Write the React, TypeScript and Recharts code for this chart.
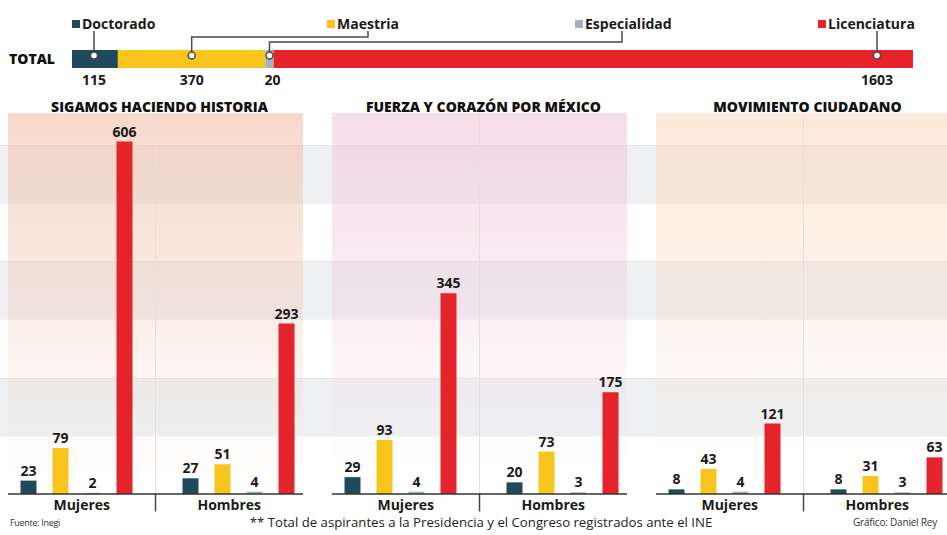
import React from 'react';
import {
  BarChart,
  Bar,
  XAxis,
  YAxis,
  Legend,
  LabelList,
  ReferenceArea,
  ReferenceLine,
} from 'recharts';

// ---- data ----
const LEVEL_KEYS = ['doc', 'mae', 'esp', 'lic'];
const LEVEL_NAMES = ['Doctorado', 'Maestria', 'Especialidad', 'Licenciatura'];
const TOTAL_VALUES = [115, 370, 20, 1603];
const GENDERS = ['Mujeres', 'Hombres'];
const PARTIES = ['SIGAMOS HACIENDO HISTORIA', 'FUERZA Y CORAZÓN POR MÉXICO', 'MOVIMIENTO CIUDADANO'];
const MUJERES = [
  [23, 79, 2, 606],
  [29, 93, 4, 345],
  [8, 43, 4, 121],
];
const HOMBRES = [
  [27, 51, 4, 293],
  [20, 73, 3, 175],
  [8, 31, 3, 63],
];
const BAND_TICKS = [100, 200, 300, 400, 500, 600];
const STRIPES = [
  [100, 200],
  [300, 400],
  [500, 600],
];
const Y_MAX = 655;

// ---- layout / styles ----
const FONT = "'Open Sans', sans-serif";
const LEVEL_COLORS = ['#1f4a5b', '#f7c51c', '#a3b1bc', '#e4232a'];
const PANEL_LEFT = [8, 332, 656];
const PANEL_W = 295;
const PANEL_TINTS = ['#f2bea3', '#f2c6d9', '#fcd9be'];
const LEGEND_LEFT = [72, 327, 575, 818];
const LEGEND_ANCHOR = [94, 368, 622, 877];
const LEGEND_ELBOW = [0, 37, 42, 0];
// plot box shared by the three party charts (page pixels)
const PLOT_TOP = 113;
const PLOT_H = 381;
const yPix = (v: number) => PLOT_TOP + (1 - v / Y_MAX) * PLOT_H;

const totalRow = [
  { label: 'TOTAL', ...Object.fromEntries(LEVEL_KEYS.map((k, i) => [k, TOTAL_VALUES[i]])) },
];

const panelRows = (p: number) =>
  GENDERS.map((g, gi) => {
    const vals = gi === 0 ? MUJERES[p] : HOMBRES[p];
    return { gender: g, ...Object.fromEntries(LEVEL_KEYS.map((k, i) => [k, vals[i]])) };
  });

function TotalMarker(props: any) {
  const { idx, value } = props;
  const vb = props.viewBox ?? props;
  const x = Number(vb.x);
  const y = Number(vb.y);
  const w = Number(vb.width);
  const h = Number(vb.height);
  const anchor = LEGEND_ANCHOR[idx];
  const inside = anchor >= x && anchor <= x + w;
  const cx = inside ? anchor : x + w / 2;
  const cy = y + h * 0.3;
  const top = 31;
  const d = inside
    ? `M${anchor},${top} V${cy}`
    : `M${anchor},${top} V${LEGEND_ELBOW[idx]} H${cx} V${cy}`;
  return (
    <g>
      <path d={d} fill="none" stroke="#4a4a4a" strokeWidth={1.5} />
      <circle cx={cx} cy={cy} r={3.5} fill="#fff" stroke="#4a4a4a" strokeWidth={1.5} />
      <text x={cx + (idx === 2 ? 3 : 0)} y={y + h + 17} textAnchor="middle" fontFamily={FONT} fontSize={14} fontWeight={700} fill="#1a1a1a">
        {value}
      </text>
    </g>
  );
}

function renderLegend(props: any) {
  const payload = props.payload || [];
  return (
    <div style={{ position: 'relative', width: 947, height: 34 }}>
      {payload.map((item: any) => {
        const i = LEVEL_NAMES.indexOf(item.value);
        return (
          <div
            key={item.value}
            style={{
              position: 'absolute',
              left: LEGEND_LEFT[i],
              top: 16,
              display: 'flex',
              alignItems: 'center',
              gap: 2,
              fontFamily: FONT,
              fontSize: 14,
              fontWeight: 700,
              lineHeight: '16px',
              color: '#1a1a1a',
            }}
          >
            <span style={{ width: 8, height: 8, background: LEVEL_COLORS[i], display: 'inline-block' }} />
            <span>{item.value}</span>
          </div>
        );
      })}
    </div>
  );
}

function PartyPanel({ p }: { p: number }) {
  const rows = panelRows(p);
  return (
    <div style={{ position: 'absolute', left: PANEL_LEFT[p], top: 100 }}>
      <BarChart width={PANEL_W} height={425} data={rows} margin={{ top: 13, right: 0, bottom: 0, left: 0 }} barSize={16} barGap={16}>
        <defs>
          <linearGradient id={`tint${p}`} x1="0" y1="0" x2="0" y2="1">
            <stop offset="0%" stopColor={PANEL_TINTS[p]} stopOpacity={0.58} />
            <stop offset="50%" stopColor={PANEL_TINTS[p]} stopOpacity={0.3} />
            <stop offset="80%" stopColor={PANEL_TINTS[p]} stopOpacity={0.05} />
            <stop offset="100%" stopColor={PANEL_TINTS[p]} stopOpacity={0} />
          </linearGradient>
        </defs>
        <XAxis
          xAxisId="a"
          dataKey="gender"
          height={31}
          interval={0}
          axisLine={{ stroke: '#333', strokeWidth: 1.5 }}
          tickLine={false}
          tickMargin={0}
          tick={{ fontSize: 14, fontWeight: 700, fill: '#1a1a1a', fontFamily: FONT }}
        />
        <XAxis xAxisId="z" dataKey="gender" hide height={0} padding={{ left: -12.5, right: -16.5 }} />
        <YAxis hide domain={[0, Y_MAX]} />
        <ReferenceArea xAxisId="a" y1={0} y2={Y_MAX} fill={`url(#tint${p})`} fillOpacity={1} />
        <ReferenceLine xAxisId="a" x="Hombres" position="start" stroke="#e4dfdd" strokeWidth={1} />
        <ReferenceLine
          xAxisId="a"
          segment={[
            { x: 'Hombres', y: 0 },
            { x: 'Hombres', y: -30 },
          ]}
          position="start"
          stroke="#444"
          strokeWidth={1.5}
          ifOverflow="visible"
        />
        {LEVEL_KEYS.map((k, i) => (
          <Bar key={k} xAxisId="z" dataKey={k} name={LEVEL_NAMES[i]} fill={LEVEL_COLORS[i]} isAnimationActive={false}>
            <LabelList dataKey={k} position="top" offset={5} fontSize={14} fontWeight={700} fill="#1a1a1a" fontFamily={FONT} />
          </Bar>
        ))}
      </BarChart>
      <div
        style={{
          position: 'absolute',
          left: 0,
          top: -1,
          width: PANEL_W,
          textAlign: 'center',
          fontFamily: FONT,
          fontSize: 14,
          fontWeight: 800,
          lineHeight: '16px',
          color: '#111',
          whiteSpace: 'nowrap',
          paddingLeft: 8,
          boxSizing: 'border-box',
        }}
      >
        {PARTIES[p]}
      </div>
    </div>
  );
}

export default function App() {
  return (
    <div style={{ position: 'absolute', left: 0, top: 0, width: 947, height: 535, overflow: 'hidden', background: '#fff' }}>
      {/* full width band background, same value scale as the party charts */}
      {STRIPES.map(([a, b]) => (
        <div
          key={a}
          style={{ position: 'absolute', left: 0, width: 947, top: yPix(b), height: yPix(a) - yPix(b), background: '#eef0f2' }}
        />
      ))}
      {BAND_TICKS.map((t) => (
        <div key={t} style={{ position: 'absolute', left: 0, width: 947, top: yPix(t), height: 1, background: 'rgba(0,0,0,0.045)' }} />
      ))}

      {/* total bar */}
      <div style={{ position: 'absolute', left: 0, top: 0 }}>
        <BarChart layout="vertical" width={947} height={100} data={totalRow} margin={{ top: 50, right: 34, bottom: 32, left: 0 }} barCategoryGap={0}>
          <XAxis type="number" hide domain={[0, 'dataMax']} />
          <YAxis
            type="category"
            dataKey="label"
            width={72}
            axisLine={false}
            tickLine={false}
            tickMargin={11}
            tick={{ fontSize: 14, fontWeight: 800, fill: '#111', fontFamily: FONT }}
          />
          <Legend content={renderLegend} verticalAlign="middle" align="center" wrapperStyle={{ top: 0, left: 0, width: 947 }} />
          {LEVEL_KEYS.map((k, i) => (
            <Bar key={k} dataKey={k} name={LEVEL_NAMES[i]} stackId="t" fill={LEVEL_COLORS[i]} isAnimationActive={false}>
              <LabelList dataKey={k} content={(lp: any) => <TotalMarker {...lp} idx={i} />} />
            </Bar>
          ))}
        </BarChart>
      </div>

      {PARTIES.map((_, p) => (
        <PartyPanel key={p} p={p} />
      ))}

      {/* footer */}
      <div style={{ position: 'absolute', left: 10, top: 516, fontFamily: FONT, fontSize: 9, color: '#333', letterSpacing: -0.3 }}>
        Fuente: Inegi
      </div>
      <div style={{ position: 'absolute', left: 0, width: 962, top: 513, textAlign: 'center', fontFamily: FONT, fontSize: 13.2, color: '#222' }}>
        ** Total de aspirantes a la Presidencia y el Congreso registrados ante el INE
      </div>
      <div style={{ position: 'absolute', left: 853, top: 515, fontFamily: FONT, fontSize: 10, color: '#333', letterSpacing: -0.2, whiteSpace: 'nowrap' }}>
        Gráfico: Daniel Rey
      </div>
    </div>
  );
}
